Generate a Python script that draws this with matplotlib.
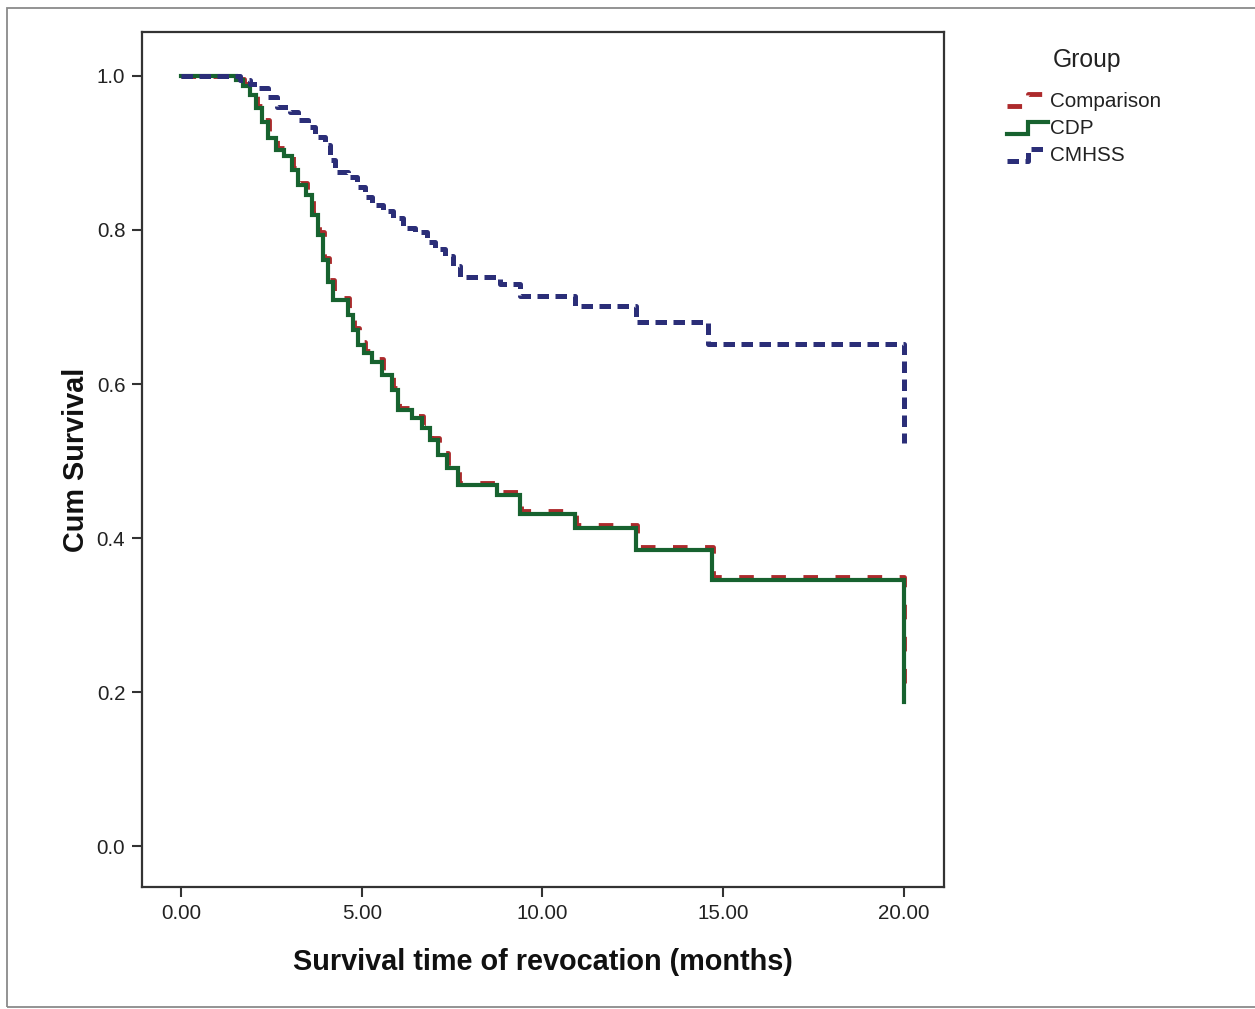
import matplotlib
matplotlib.use("Agg")
import matplotlib.pyplot as plt
from matplotlib.lines import Line2D
from matplotlib.legend_handler import HandlerBase
from matplotlib.patches import Rectangle

plt.rcParams['font.family'] = ['Liberation Sans', 'DejaVu Sans']

# Kaplan-Meier step points (time in months, cumulative survival)
cdp_t = [0, 1.52, 1.72, 1.91, 2.07, 2.24, 2.41, 2.63, 2.85, 3.07, 3.24, 3.46, 3.62,
         3.79, 3.93, 4.07, 4.20, 4.62, 4.76, 4.90, 5.06, 5.28, 5.56, 5.84, 6.00,
         6.39, 6.67, 6.89, 7.11, 7.36, 7.66, 8.74, 9.38, 10.90, 12.59, 14.69, 20.0]
cdp_s = [1.0, 0.995, 0.987, 0.975, 0.958, 0.940, 0.919, 0.904, 0.896, 0.878, 0.858,
         0.845, 0.819, 0.794, 0.761, 0.732, 0.709, 0.690, 0.670, 0.651, 0.640, 0.629,
         0.612, 0.592, 0.566, 0.556, 0.543, 0.527, 0.508, 0.491, 0.469, 0.456, 0.431,
         0.413, 0.384, 0.345, 0.187]

comp_t = [0, 1.54, 1.74, 1.93, 2.09, 2.26, 2.43, 2.65, 2.87, 3.09, 3.26, 3.48, 3.64,
          3.81, 3.95, 4.09, 4.22, 4.64, 4.78, 4.92, 5.08, 5.30, 5.58, 5.86, 6.02,
          6.41, 6.69, 6.91, 7.13, 7.38, 7.68, 8.76, 9.40, 10.92, 12.61, 14.71, 20.0]
comp_s = [1.0, 0.996, 0.989, 0.977, 0.961, 0.943, 0.922, 0.907, 0.899, 0.881, 0.861,
          0.848, 0.822, 0.797, 0.764, 0.735, 0.712, 0.693, 0.673, 0.654, 0.643, 0.632,
          0.615, 0.595, 0.569, 0.559, 0.546, 0.530, 0.511, 0.494, 0.472, 0.460, 0.435,
          0.417, 0.388, 0.349, 0.195]

cmhss_t = [0, 1.63, 1.91, 2.13, 2.41, 2.66, 3.02, 3.24, 3.51, 3.71, 3.98, 4.12, 4.26,
           4.62, 4.87, 5.09, 5.28, 5.59, 5.86, 6.14, 6.47, 6.80, 7.03, 7.30, 7.52,
           7.72, 8.82, 9.38, 10.90, 12.59, 14.58, 20.0]
cmhss_s = [1.0, 0.995, 0.990, 0.984, 0.973, 0.960, 0.953, 0.943, 0.934, 0.921, 0.910,
           0.891, 0.875, 0.869, 0.856, 0.843, 0.833, 0.824, 0.816, 0.803, 0.797, 0.785,
           0.775, 0.766, 0.753, 0.739, 0.730, 0.714, 0.701, 0.680, 0.652, 0.523]

x_ticks = [0, 5, 10, 15, 20]
y_ticks = [0.0, 0.2, 0.4, 0.6, 0.8, 1.0]


class StepHandler(HandlerBase):
    # small step-shaped legend key like SPSS draws
    def create_artists(self, legend, orig_handle, xdescent, ydescent,
                       width, height, fontsize, trans):
        xs = [0, width * 0.5, width * 0.5, width]
        ys = [height * 0.1, height * 0.1, height * 0.8, height * 0.8]
        line = Line2D([x - xdescent for x in xs], [y - ydescent for y in ys])
        line.update_from(orig_handle)
        line.set_drawstyle('default')
        line.set_clip_on(False)
        line.set_clip_box(None)
        line.set_clip_path(None)
        line.set_transform(trans)
        return [line]


fig = plt.figure(figsize=(12.55, 10.09), dpi=100)
ax = fig.add_axes([142 / 1255, 1 - 887 / 1009, (944 - 142) / 1255, (887 - 32) / 1009])

red = '#ad2a2c'
green = '#17622f'
blue = '#2b2e78'

l1, = ax.step(comp_t, comp_s, where='post', color=red, lw=3.5,
              dashes=(3.0, 3.6), label='Comparison')
l2, = ax.step(cdp_t, cdp_s, where='post', color=green, lw=3.0,
              solid_joinstyle='miter', label='CDP')
l3, = ax.step(cmhss_t, cmhss_s, where='post', color=blue, lw=3.6,
              dashes=(2.3, 1.3), label='CMHSS')

ax.set_xlim(-1.079, 21.11)
ax.set_ylim(-0.053, 1.057)
ax.set_xticks(x_ticks)
ax.set_xticklabels([f"{v:.2f}" for v in x_ticks])
ax.set_yticks(y_ticks)
ax.set_yticklabels([f"{v:.1f}" for v in y_ticks])
ax.tick_params(length=7, width=1.5, color='#333333', labelsize=14.8,
               labelcolor='#222222', pad=5)
for sp in ax.spines.values():
    sp.set_linewidth(1.6)
    sp.set_color('#333333')

ax.set_xlabel('Survival time of revocation (months)', fontsize=20.8,
              fontweight='bold', labelpad=18, color='#111111')
ax.set_ylabel('Cum Survival', fontsize=20.8, fontweight='bold',
              labelpad=5, color='#111111')

fig.text(1087 / 1255, 1 - 60 / 1009, 'Group', fontsize=17.8, color='#222222',
         ha='center', va='center')
leg = fig.legend(handles=[l1, l2, l3], loc='upper left',
                 bbox_to_anchor=(1007 / 1255, 1 - 91 / 1009), frameon=False,
                 fontsize=14.9, handler_map={Line2D: StepHandler()},
                 handlelength=2.0, handleheight=0.9, handletextpad=0.1,
                 labelspacing=0.37, borderaxespad=0, borderpad=0)
for t in leg.get_texts():
    t.set_color('#222222')

# thin outer frame around the figure
fig.patches.append(Rectangle((7 / 1255, 1 - 1007 / 1009), 1.2, 999 / 1009,
                             transform=fig.transFigure, fill=False,
                             edgecolor='#8a8a8a', lw=1.3))

fig.savefig('out.png', dpi=100)
